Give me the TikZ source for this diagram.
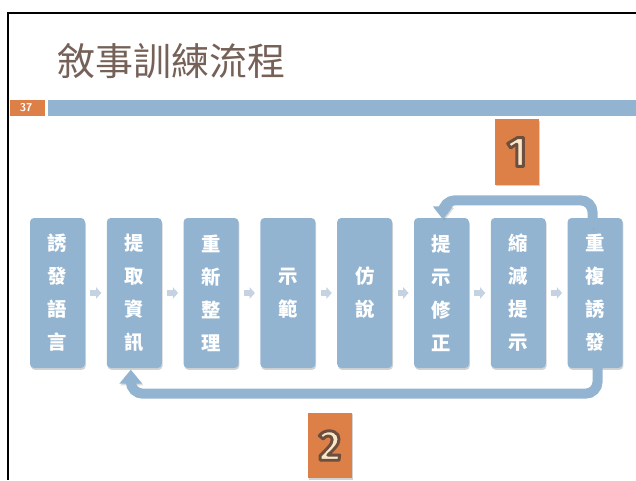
\documentclass[tikz,border=0pt]{standalone}
\usepackage{fontspec}
\usetikzlibrary{arrows.meta,calc,shadows}
\newfontfamily\cjk{Noto Sans CJK TC}
\newfontfamily\badgefont{Fira Sans}
\definecolor{boxblue}{RGB}{147,180,208}
\definecolor{slideorange}{RGB}{221,128,71}
\definecolor{titlebrown}{RGB}{118,97,88}
\definecolor{arrowgray}{RGB}{196,210,226}
\definecolor{digitcream}{RGB}{248,232,200}
% cream digit with a brown outline (stroke + fill render mode)
\newcommand{\badgedigit}[1]{{\color{digitcream}\special{pdf:literal direct 0.431 0.306 0.243 RG 2.2 w 1 j 2 Tr}#1\special{pdf:literal direct 0 Tr}}}
\begin{document}
\begin{tikzpicture}
  [
  x=0.75pt, y=-0.75pt, line width=1pt,
  stepbox/.style={rectangle, rounded corners=3pt, minimum width=41.25pt, minimum height=112.5pt,
    inner sep=0pt, fill=boxblue, text=white, align=center,
    font=\cjk\bfseries\fontsize{14.5}{24.75}\selectfont,
    drop shadow={opacity=0.35, shadow xshift=0.6pt, shadow yshift=-1.4pt}},
  flowarrow/.style={draw=arrowgray, line width=4.5pt, shorten <=3.6pt, shorten >=3.6pt,
    -{Triangle[length=4pt, width=8.5pt]}},
  loopline/.style={draw=boxblue, line width=7.5pt, rounded corners=9pt,
    preaction={draw=black!45, opacity=0.3, transform canvas={shift={(0.8pt,-1.2pt)}}}},
  badge/.style={rectangle, fill=slideorange, inner sep=0pt, minimum width=33pt, minimum height=49pt,
    font=\badgefont\bfseries\fontsize{32}{32}\selectfont,
    drop shadow={opacity=0.35, shadow xshift=0.6pt, shadow yshift=-1.2pt}},
  ]
\useasboundingbox (0,0) rectangle (636,480);

% slide frame, title and header bar
\draw[line width=2pt] (8,480) -- (8,13) -- (636,13);
\node[anchor=west, inner sep=0pt, text=titlebrown, font=\cjk\fontsize{28.5}{28.5}\selectfont] (title) at (56.5,61) {敘事訓練流程};
\fill[slideorange] (9.5,100) rectangle (45,116);
\node[text=white, font=\sffamily\bfseries\fontsize{8.5}{8.5}\selectfont] (page) at (26,108) {37};
\fill[boxblue] (48,100) rectangle (636,116);

% steps
\foreach \t [count=\i] in {誘\\發\\語\\言, 提\\取\\資\\訊, 重\\新\\整\\理, 示\\範, 仿\\說,
                           提\\示\\修\\正, 縮\\減\\提\\示, 重\\複\\誘\\發} {
  \node[stepbox] (b\i) at ({57.5+76.8*(\i-1)},293) {\t};
}

\foreach \a/\b in {1/2,2/3,3/4,4/5,5/6,6/7,7/8} {
  \draw[flowarrow] (b\a.east) -- (b\b.west);
}

% loops back
\draw[loopline, -{Triangle[length=9.75pt, width=14.5pt]}]
  ($(b8.north)+(-2.5,11)$) |- ($(b6.north)+(1.5,-17)$) -- ($(b6.north)+(1.5,2)$);
\draw[loopline, -{Triangle[length=10.5pt, width=16.5pt]}]
  ($(b8.south)+(2.5,-10)$) |- ($(b2.south)+(-3.5,25)$) -- ($(b2.south)+(-3.5,1)$);

\node[badge] (one) at (517,152) {\badgedigit{1}};
\node[badge] (two) at (330,445.5) {\badgedigit{2}};
\end{tikzpicture}
\end{document}
